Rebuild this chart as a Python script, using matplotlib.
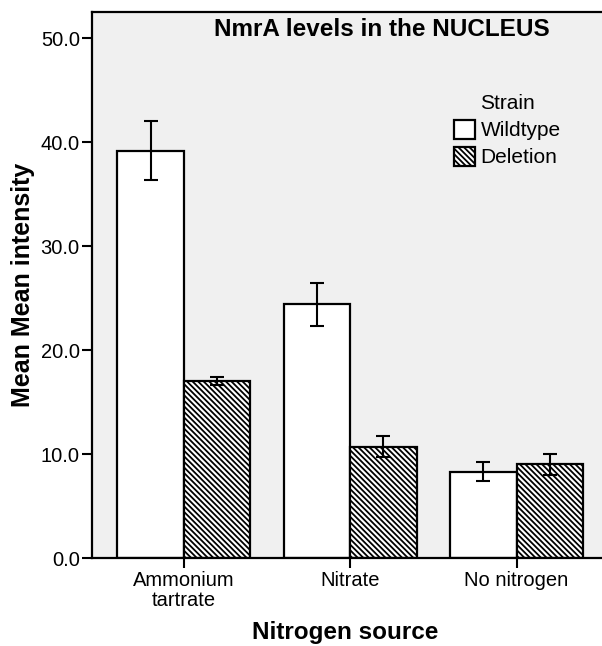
import numpy as np
import matplotlib
matplotlib.use('Agg')
from matplotlib import pyplot as plt

sources = ['Ammonium\ntartrate', 'Nitrate', 'No nitrogen']
strains = ['Wildtype', 'Deletion']
wildtype_mean = [39.2, 24.4, 8.3]
wildtype_err = [2.8, 2.1, 0.9]
deletion_mean = [17.0, 10.7, 9.0]
deletion_err = [0.4, 1.0, 1.0]
y_ticks = [0.0, 10.0, 20.0, 30.0, 40.0, 50.0]

plt.rcParams['font.family'] = ['Liberation Sans', 'DejaVu Sans']
plt.rcParams['hatch.linewidth'] = 1.3
plt.rcParams['hatch.color'] = 'black'

W, H = 602, 646
fig = plt.figure(figsize=(W / 100, H / 100), dpi=100)
left = 92.3 / W
bottom = (H - 558) / H
top = (H - 11.7) / H
ax = fig.add_axes([left, bottom, 1.0 - left, top - bottom])
ax.set_facecolor('#f0f0f0')

x = np.arange(len(sources))
width = 0.4
err_kw = dict(ecolor='black', elinewidth=1.5, capsize=5, capthick=1.5)
ax.bar(x - width / 2, wildtype_mean, width, yerr=wildtype_err, color='white',
       edgecolor='black', linewidth=1.6, label=strains[0], error_kw=err_kw, zorder=2)
ax.bar(x + width / 2, deletion_mean, width, yerr=deletion_err, color='white',
       edgecolor='black', linewidth=1.6, hatch='\\\\\\\\\\\\', label=strains[1],
       error_kw=err_kw, zorder=2)

ax.set_xlim(-0.551, 2.514)
ax.set_ylim(0, 52.56)
ax.set_yticks(y_ticks)
ax.set_yticklabels([f'{v:.1f}' for v in y_ticks], fontsize=14.5)
ax.set_xticks(x)
ax.set_xticklabels(sources, fontsize=14.5, linespacing=1.1)
ax.tick_params(axis='both', direction='out', length=7, width=1.5, pad=2)
ax.spines['right'].set_visible(False)
for s in ['left', 'top', 'bottom']:
    ax.spines[s].set_linewidth(1.6)

ax.set_ylabel('Mean Mean intensity', fontsize=18, fontweight='bold', labelpad=4)
fig.text(345 / W, 1 - 632 / H, 'Nitrogen source', fontsize=17.5, fontweight='bold',
         ha='center', va='center')
fig.text(382 / W, 1 - 36 / H, 'NmrA levels in the NUCLEUS', fontsize=17.5,
         fontweight='bold', ha='center', va='baseline')

leg = ax.legend(title='Strain', loc='upper left', bbox_to_anchor=(444 / W, 1 - 84 / H),
                bbox_transform=fig.transFigure, frameon=False, fontsize=15,
                title_fontsize=15, handlelength=1.0, handleheight=1.05,
                labelspacing=0.3, handletextpad=0.25, borderpad=0)
for p in leg.get_patches():
    p.set_linewidth(1.6)

fig.savefig('out.png', dpi=100)
